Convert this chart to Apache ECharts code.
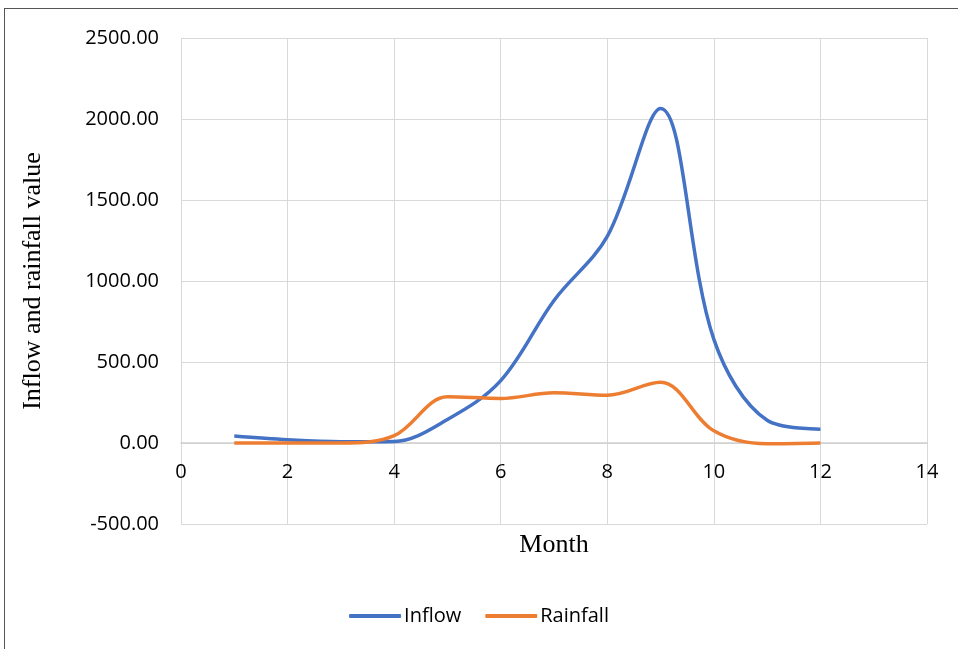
<!DOCTYPE html>
<html><head><meta charset="utf-8">
<script src="https://cdn.jsdelivr.net/npm/echarts@6/dist/echarts.min.js"></script>
<style>html,body{margin:0;padding:0;background:#fff}#c{width:958px;height:649px}
#frame{position:absolute;left:4px;top:8px;width:960px;height:650px;border-left:1px solid #555;border-top:1px solid #555;pointer-events:none}</style>
</head><body><div id="c"></div><div id="frame"></div>
<script>
const months = [1,2,3,4,5,6,7,8,9,10,11,12];
const inflow = [43,20,8,10,145,385,880,1275,2065,640,140,85];
const rainfall = [0,0,0,45,285,275,310,295,375,75,-5,0];
const xTicks = {min:0,max:14,interval:2};
const yTicks = {min:-500,max:2500,interval:500};
const chart = echarts.init(document.getElementById('c'));
const lab = {fontFamily:'Open Sans, Liberation Sans, sans-serif',fontSize:20,color:'#000'};
chart.setOption({
  animation:false,
  grid:{left:181,right:31,top:38,bottom:125,containLabel:false},
  legend:{bottom:18,left:'center',itemWidth:52,itemHeight:4,itemGap:24,icon:'roundRect',
    textStyle:{fontFamily:'Open Sans, Liberation Sans, sans-serif',fontSize:20,color:'#000',padding:[0,0,0,-2]},
    data:['Inflow','Rainfall']},
  xAxis:{type:'value',min:xTicks.min,max:xTicks.max,interval:xTicks.interval,
    position:'bottom',offset:-81,
    name:'Month',nameLocation:'middle',nameGap:89,
    nameTextStyle:{fontFamily:'Liberation Serif, serif',fontSize:26,color:'#000'},
    axisLine:{show:true,onZero:false,lineStyle:{color:'#d0d0d0',width:1.5}},axisTick:{show:false},
    axisLabel:Object.assign({margin:19},lab),
    splitLine:{show:true,lineStyle:{color:'#d9d9d9',width:1}}},
  yAxis:{type:'value',min:yTicks.min,max:yTicks.max,interval:yTicks.interval,
    name:'Inflow and rainfall value',nameLocation:'middle',nameGap:135,
    nameTextStyle:{fontFamily:'Liberation Serif, serif',fontSize:26,color:'#000'},
    axisLine:{show:false},axisTick:{show:false},
    axisLabel:Object.assign({margin:22,formatter:v=>v.toFixed(2)},lab),
    splitLine:{show:true,lineStyle:{color:'#d9d9d9',width:1}}},
  series:[
    {name:'Inflow',type:'line',smooth:0.35,showSymbol:false,symbol:'none',
     data:months.map((m,i)=>[m,inflow[i]]),lineStyle:{color:'#4472c4',width:3.5},itemStyle:{color:'#4472c4'}},
    {name:'Rainfall',type:'line',smooth:0.35,showSymbol:false,symbol:'none',
     data:months.map((m,i)=>[m,rainfall[i]]),lineStyle:{color:'#ed7d31',width:3.5},itemStyle:{color:'#ed7d31'}}
  ]
});
</script></body></html>
